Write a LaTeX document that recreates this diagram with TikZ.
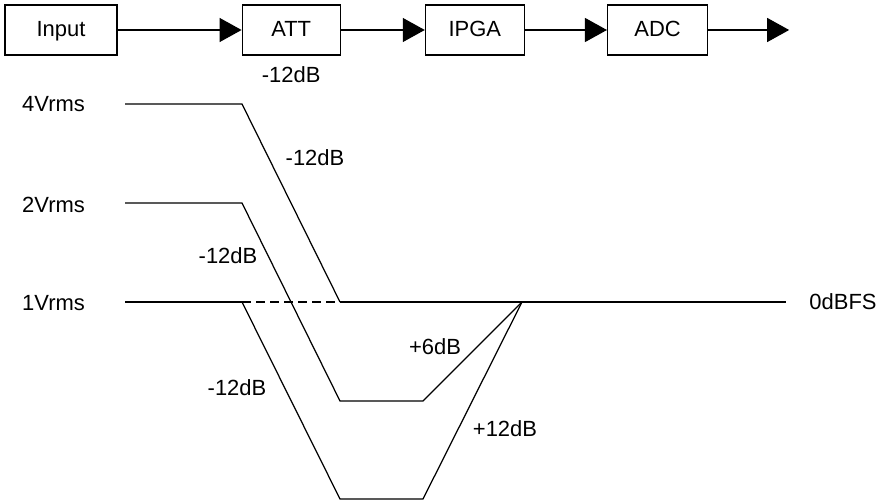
\documentclass[tikz,border=0pt]{standalone}
\usepackage{fontspec}
\setmainfont{Liberation Sans}
\usepackage{tikz}
\usetikzlibrary{arrows.meta, positioning}

\tikzset{
    block/.style={draw, line width=0.7pt, minimum height=1cm, inner sep=0pt,
        text height=0.72em, text depth=0pt},
    flow/.style={line width=0.7pt, -{Triangle[length=0.44cm, width=0.48cm]}},
    level/.style={line width=0.7pt},
    lbl/.style={font=\fontsize{12.5}{15}\selectfont}
}

\begin{document}
\begin{tikzpicture}[x=0.02cm, y=-0.02cm, every node/.style={lbl}]
    \useasboundingbox (0,0) rectangle (883,500);

    % Signal chain
    \node[block, minimum width=2.24cm] (input) at (61,30) {Input};
    \node[block, minimum width=1.96cm, right=2.48cm of input] (att) {ATT};
    \node[block, minimum width=1.98cm, right=1.68cm of att] (ipga) {IPGA};
    \node[block, minimum width=2cm, right=1.64cm of ipga] (adc) {ADC};
    \coordinate[right=1.62cm of adc] (out);
    \draw[flow] (input) -- (att);
    \draw[flow] (att) -- (ipga);
    \draw[flow] (ipga) -- (adc);
    \draw[flow] (adc) -- (out);
    \node[below=0.1cm of att] (attgain) {-12dB};

    % Input levels
    \node[anchor=west] (v4) at (16,104) {4Vrms};
    \node[anchor=west] (v2) at (16,205) {2Vrms};
    \node[anchor=west] (v1) at (16,303) {1Vrms};
    \node (fs) at (843,302) {0dBFS};

    % 4Vrms path
    \draw[level] (125,104) -- (242,104) -- (340,302);
    % 2Vrms path
    \draw[level] (125,203) -- (242,203) -- (340,401) -- (423,401) -- (522,302);
    % 1Vrms path
    \draw[level] (125,302) -- (242,302);
    \draw[level, dashed, dash pattern=on 5pt off 3pt] (242,302) -- (340,302);
    \draw[level] (340,302) -- (786,302);
    \draw[level] (242,302) -- (340,499) -- (423,499) -- (522,302);

    % Gain labels
    \node (g4) at (315,158) {-12dB};
    \node (g2) at (228,256) {-12dB};
    \node (g1) at (237,388) {-12dB};
    \node (up6) at (435,347) {+6dB};
    \node (up12) at (505,429) {+12dB};
\end{tikzpicture}
\end{document}
